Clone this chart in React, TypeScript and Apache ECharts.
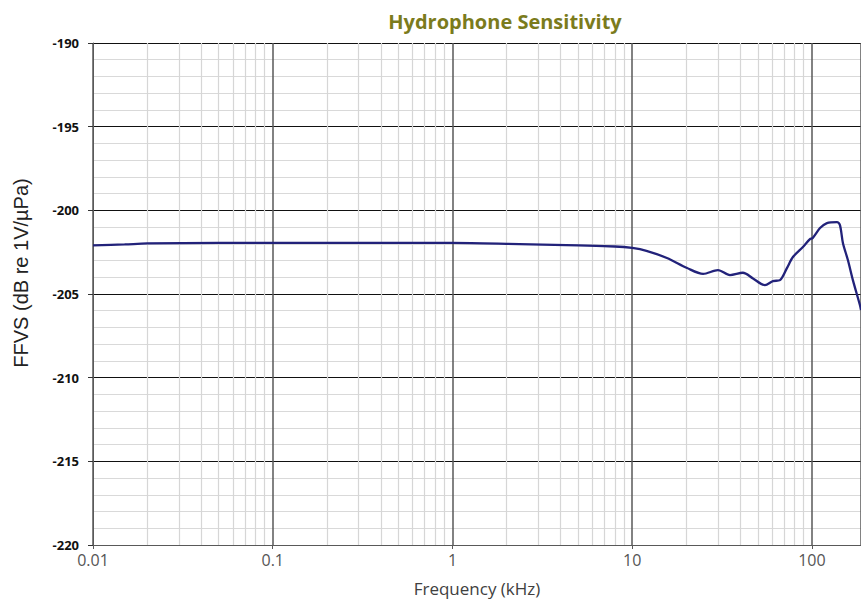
import React, { useEffect, useRef } from "react";
import * as echarts from "echarts";

const freqKHz = [
  0.01, 0.015, 0.02, 0.05, 0.1, 0.5, 1, 2, 5, 8, 10, 12, 15.6, 20.2, 24.8,
  30, 35, 41.3, 47, 54.8, 60.7, 66.4, 72.6, 78.4, 89.1, 97.5, 100.8, 110.9,
  121.2, 137.7, 143.2, 148.7, 158.5, 169, 184.9, 187.5,
];
const ffvs = [
  -202.1, -202.04, -201.98, -201.95, -201.95, -201.95, -201.95, -202.0, -202.1,
  -202.16, -202.25, -202.42, -202.85, -203.45, -203.8, -203.57,
  -203.87, -203.73, -204.07, -204.47, -204.23, -204.17, -203.45, -202.79,
  -202.19, -201.72, -201.66, -201.06, -200.76, -200.7, -200.88, -201.95,
  -202.97, -204.17, -205.66, -205.96,
];
const xMin = 0.01;
const xMax = 187.5;
const yMin = -220;
const yMax = -190;
const yStep = 5;
const decades = [0.01, 0.1, 1, 10, 100];
const minorMultiples = [2, 3, 4, 5, 6, 7, 8, 9];

const titleText = "Hydrophone Sensitivity";
const xName = "Frequency (kHz)";
const yName = "FFVS (dB re 1V/\u00b5Pa)";

export default function App() {
  const ref = useRef<HTMLDivElement>(null);
  useEffect(() => {
    if (!ref.current) return;
    const chart = echarts.init(ref.current, undefined, { renderer: "svg" });
    const minorX: number[] = [];
    decades.forEach((d) =>
      minorMultiples.forEach((m) => {
        const v = d * m;
        if (v < xMax) minorX.push(v);
      })
    );
    const data = freqKHz.map((f, i) => [f, ffvs[i]]);
    chart.setOption({
      animation: false,
      backgroundColor: "#ffffff",
      title: {
        text: titleText,
        left: 500,
        top: 6,
        textAlign: "center",
        textStyle: {
          color: "#7b7b1c",
          fontFamily: "Open Sans",
          fontWeight: "bold",
          fontSize: 20,
        },
      },
      graphic: [
        {
          type: "text",
          x: 21,
          y: 273,
          rotation: Math.PI / 2,
          style: {
            text: yName,
            fill: "#222222",
            font: "20px 'Liberation Sans', Arial, sans-serif",
            align: "center",
            verticalAlign: "middle",
          },
        },
      ],
      grid: { left: 93, top: 43, right: 0, bottom: 57, containLabel: false },
      xAxis: {
        type: "log",
        logBase: 10,
        min: xMin,
        max: xMax,
        name: xName,
        nameLocation: "middle",
        nameGap: 35,
        nameTextStyle: { color: "#404040", fontFamily: "Open Sans", fontSize: 17 },
        axisLine: { show: true, lineStyle: { color: "#595959", width: 1 } },
        axisTick: { show: true, length: 4, lineStyle: { color: "#595959" } },
        axisLabel: {
          color: "#555555",
          fontFamily: "Open Sans",
          fontSize: 16,
          margin: 7,
          showMaxLabel: false,
          formatter: (v: number) => {
            const l = Math.log10(v);
            if (Math.abs(l - Math.round(l)) > 1e-6) return "";
            return String(Number(v.toPrecision(6)));
          },
        },
        splitLine: { show: true, lineStyle: { color: "#595959", width: 1.5 } },
      },
      yAxis: {
        type: "value",
        min: yMin,
        max: yMax,
        interval: yStep,
        axisLine: { show: true, lineStyle: { color: "#595959", width: 1 } },
        axisTick: { show: true, length: 5, lineStyle: { color: "#333333" } },
        axisLabel: {
          color: "#111111",
          fontFamily: "Open Sans",
          fontWeight: "bold",
          fontSize: 13,
          margin: 14,
        },
        splitLine: { show: true, lineStyle: { color: "#111111", width: 1 } },
        minorTick: { show: false, splitNumber: 5 },
        minorSplitLine: { show: true, lineStyle: { color: "#d9d9d9", width: 1.2 } },
      },
      series: [
        {
          type: "line",
          data: [],
          z: -1,
          silent: true,
          markLine: {
            silent: true,
            symbol: ["none", "none"],
            label: { show: false },
            lineStyle: { color: "#d6d6d6", width: 1.2, type: "solid" },
            data: minorX.map((v) => ({ xAxis: v })),
          },
        },
        {
          type: "line",
          data,
          smooth: 0.3,
          showSymbol: false,
          symbol: "none",
          z: 5,
          lineStyle: { color: "#22227a", width: 2.3 },
        },
      ],
    });
    return () => chart.dispose();
  }, []);
  return (
    <div
      ref={ref}
      style={{ position: "fixed", left: 0, top: 0, width: 861, height: 602 }}
    />
  );
}
